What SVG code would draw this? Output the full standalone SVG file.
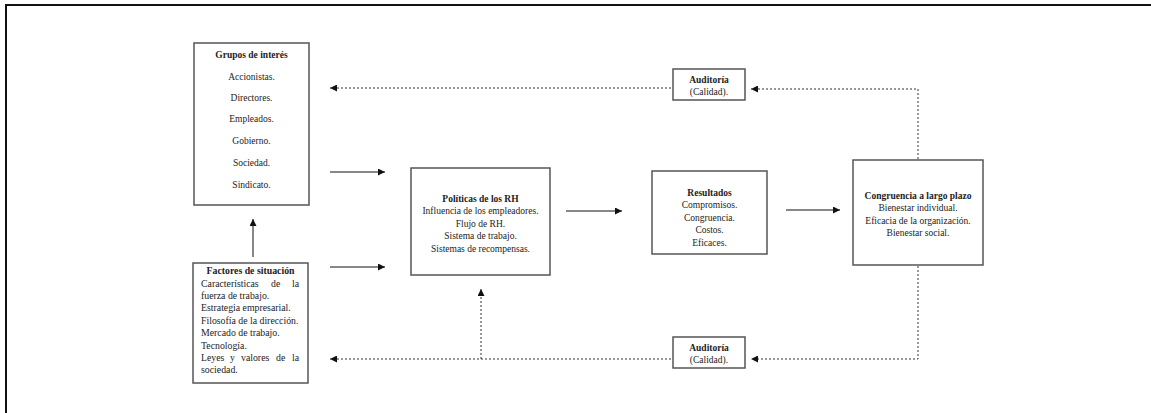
<svg xmlns="http://www.w3.org/2000/svg" width="1151" height="413" viewBox="0 0 1151 413">
  <style>
    .frame { fill: none; stroke: #111; stroke-width: 2; }
    .box { fill: #fff; stroke: #555; stroke-width: 1.5; }
    text { font-family: "Liberation Serif", "Times New Roman", serif; font-size: 9.5px; fill: #222; }
    .f { font-size: 9.8px; }
    .c { text-anchor: middle; }
    .e { text-anchor: end; }
    .b { font-weight: bold; }
    .solid { fill: none; stroke: #111; stroke-width: 1; }
    .dash { fill: none; stroke: #333; stroke-width: 1; stroke-dasharray: 2 2; }
  </style>
  <defs>
    <marker id="arrow" viewBox="0 0 10 10" refX="10" refY="5" markerWidth="7" markerHeight="7" orient="auto" markerUnits="userSpaceOnUse">
      <path d="M0,0 L10,5 L0,10 z" fill="#111"/>
    </marker>
  </defs>

  <!-- page frame -->
  <path class="frame" d="M6,413 V5 H1151"/>

  <!-- connectors -->
  <g id="connectors">
    <!-- solid flow -->
    <line class="solid" x1="330" y1="172" x2="385" y2="172" marker-end="url(#arrow)"/>
    <line class="solid" x1="330" y1="267" x2="385" y2="267" marker-end="url(#arrow)"/>
    <line class="solid" x1="566" y1="211" x2="622" y2="211" marker-end="url(#arrow)"/>
    <line class="solid" x1="786" y1="210" x2="840" y2="210" marker-end="url(#arrow)"/>
    <line class="solid" x1="253" y1="257" x2="253" y2="219" marker-end="url(#arrow)"/>
    <!-- top feedback loop -->
    <polyline class="dash" points="918,159 918,89 751,89" marker-end="url(#arrow)"/>
    <line class="dash" x1="671" y1="88" x2="330" y2="88" marker-end="url(#arrow)"/>
    <!-- bottom feedback loop -->
    <polyline class="dash" points="918,266 918,359 751,359" marker-end="url(#arrow)"/>
    <line class="dash" x1="671" y1="359" x2="330" y2="359" marker-end="url(#arrow)"/>
    <line class="dash" x1="481" y1="359" x2="481" y2="289" marker-end="url(#arrow)"/>
  </g>

  <g id="grupos">
    <rect class="box" x="194" y="43" width="115" height="162"/>
    <text class="c b" x="251.5" y="58">Grupos de interés</text>
    <text class="c" x="251.5" y="80">Accionistas.</text>
    <text class="c" x="251.5" y="101">Directores.</text>
    <text class="c" x="251.5" y="122">Empleados.</text>
    <text class="c" x="251.5" y="144">Gobierno.</text>
    <text class="c" x="251.5" y="166">Sociedad.</text>
    <text class="c" x="251.5" y="188">Sindicato.</text>
  </g>

  <g id="factores">
    <rect class="box" x="193" y="263" width="115" height="120"/>
    <text class="c b f" x="250.5" y="274">Factores de situación</text>
    <!-- justified first line -->
    <text class="f" x="201" y="287">Características</text>
    <text class="f" x="271" y="287">de</text>
    <text class="e f" x="299" y="287">la</text>
    <text class="f" x="201" y="299">fuerza de trabajo.</text>
    <text class="f" x="201" y="311">Estrategia empresarial.</text>
    <text class="f" x="201" y="324">Filosofía de la dirección.</text>
    <text class="f" x="201" y="336">Mercado de trabajo.</text>
    <text class="f" x="201" y="349">Tecnología.</text>
    <!-- justified line -->
    <text class="f" x="201" y="361">Leyes</text>
    <text class="f" x="230" y="361">y</text>
    <text class="f" x="241" y="361">valores</text>
    <text class="f" x="276" y="361">de</text>
    <text class="e f" x="299" y="361">la</text>
    <text class="f" x="201" y="373">sociedad.</text>
  </g>

  <g id="politicas">
    <rect class="box" x="411" y="168" width="139" height="107"/>
    <text class="c b" x="480.5" y="202">Políticas de los RH</text>
    <text class="c" x="480.5" y="214">Influencia de los empleadores.</text>
    <text class="c" x="480.5" y="227">Flujo de RH.</text>
    <text class="c" x="480.5" y="239">Sistema de trabajo.</text>
    <text class="c" x="480.5" y="252">Sistemas de recompensas.</text>
  </g>

  <g id="resultados">
    <rect class="box" x="652" y="171" width="115" height="83"/>
    <text class="c b" x="709.5" y="196">Resultados</text>
    <text class="c" x="709.5" y="208">Compromisos.</text>
    <text class="c" x="709.5" y="221">Congruencia.</text>
    <text class="c" x="709.5" y="233">Costos.</text>
    <text class="c" x="709.5" y="246">Eficaces.</text>
  </g>

  <g id="congruencia">
    <rect class="box" x="853" y="160" width="130" height="105"/>
    <text class="c b" x="918" y="199">Congruencia a largo plazo</text>
    <text class="c" x="918" y="211">Bienestar individual.</text>
    <text class="c" x="918" y="224">Eficacia de la organización.</text>
    <text class="c" x="918" y="236">Bienestar social.</text>
  </g>

  <g id="auditoria-superior">
    <rect class="box" x="673" y="69" width="72" height="31"/>
    <text class="c b" x="709" y="83">Auditoría</text>
    <text class="c" x="709" y="95">(Calidad).</text>
  </g>

  <g id="auditoria-inferior">
    <rect class="box" x="673" y="337" width="72" height="31"/>
    <text class="c b" x="709" y="351">Auditoría</text>
    <text class="c" x="709" y="363">(Calidad).</text>
  </g>
</svg>
